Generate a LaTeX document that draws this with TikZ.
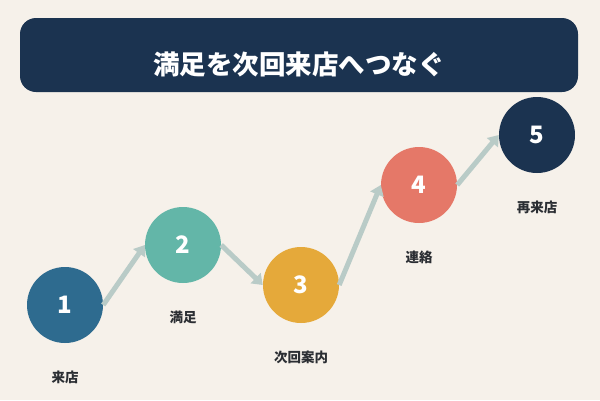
\documentclass[tikz,border=0pt]{standalone}
\usepackage{fontspec}
\setmainfont{Noto Sans CJK JP}
\usepackage{tikz}
\usetikzlibrary{arrows.meta}
\definecolor{bgcream}{HTML}{F6F1EA}
\definecolor{navy}{HTML}{1B3350}
\definecolor{stepblue}{HTML}{2E6B8F}
\definecolor{stepteal}{HTML}{63B6A8}
\definecolor{stepgold}{HTML}{E5A93A}
\definecolor{stepcoral}{HTML}{E57868}
\definecolor{arrowgray}{HTML}{B9CBC7}
\definecolor{labelgray}{HTML}{2B2E33}

\begin{document}
\begin{tikzpicture}[x=1pt,y=-1pt,
    stepcircle/.style={circle,minimum size=76pt,inner sep=0pt,text=white,font=\bfseries\fontsize{24}{24}\selectfont},
    steplabel/.style={text=labelgray,font=\bfseries\fontsize{13.5}{14}\selectfont},
    flow/.style={line width=5pt,arrowgray,-{Triangle[length=10pt,width=14pt]}}]
		\fill[bgcream] (0,0) rectangle (600,400);
		\useasboundingbox (0,0) rectangle (600,400);
		\fill[navy,rounded corners=16pt] (20,18) rectangle (578,92);
		\node[text=white,font=\bfseries\fontsize{26.5}{27}\selectfont] (title) at (299,64) {満足を次回来店へつなぐ};
		\node[stepcircle,fill=stepblue] (S1) at (65,305) {1};
		\node[stepcircle,fill=stepteal] (S2) at (183,245) {2};
		\node[stepcircle,fill=stepgold] (S3) at (301,285) {3};
		\node[stepcircle,fill=stepcoral] (S4) at (419,185) {4};
		\node[stepcircle,fill=navy] (S5) at (537,135) {5};
		\node[steplabel] (L1) at (65,377) {来店};
		\node[steplabel] (L2) at (183,317) {満足};
		\node[steplabel] (L3) at (301,357) {次回案内};
		\node[steplabel] (L4) at (419,257) {連絡};
		\node[steplabel] (L5) at (537,207) {再来店};
        \draw [flow] (S1.east) -- (S2.west);
		\draw [flow] (S2.east) -- (S3.west);
		\draw [flow] (S3.east) -- (S4.west);
		\draw [flow] (S4.east) -- (S5.west);
    \end{tikzpicture}
\end{document}
